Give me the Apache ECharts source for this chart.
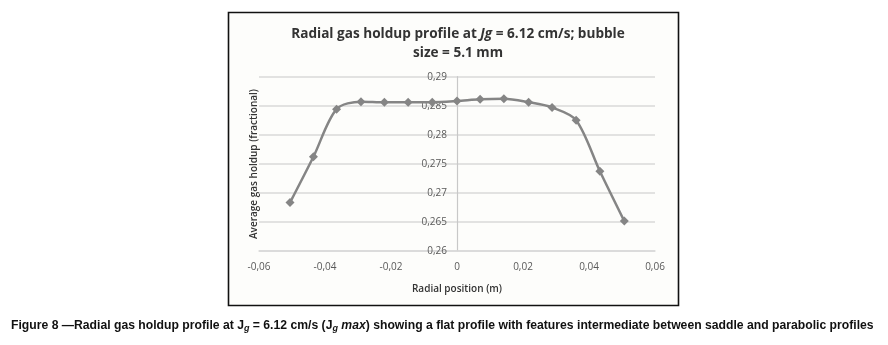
<!DOCTYPE html>
<html>
<head>
<meta charset="utf-8">
<script src="https://cdn.jsdelivr.net/npm/echarts@6/dist/echarts.min.js"></script>
<style>
  html, body { margin: 0; padding: 0; background: #ffffff; }
  #main { width: 888px; height: 345px; }
</style>
</head>
<body>
<div id="main"></div>
<script type="text/javascript">
// radial position (m) and gas holdup
var radialPos = [-0.0506, -0.0435, -0.0365, -0.0291, -0.0220, -0.0148, -0.0075, 0,
                 0.0070, 0.0142, 0.0217, 0.0288, 0.0361, 0.0433, 0.0507];
var holdup = [0.2683, 0.2762, 0.2844, 0.2857, 0.2856, 0.2856, 0.2856, 0.2858,
              0.2861, 0.2862, 0.2856, 0.2847, 0.2825, 0.2737, 0.2651];

var seriesData = radialPos.map(function (x, i) { return [x, holdup[i]]; });

function comma(v) { return String(+v.toFixed(3)).replace('.', ','); }

var narrow = 'Liberation Sans Narrow, Arial Narrow, sans-serif';

var myChart = echarts.init(document.getElementById('main'));
var option = {
    animation: false,
    backgroundColor: '#ffffff',
    graphic: [
        {
            type: 'rect', z: -10,
            shape: { x: 228.5, y: 12.5, width: 450, height: 293 },
            style: { fill: '#fdfdfb', stroke: '#111', lineWidth: 1.6 }
        },
        {
            type: 'text', left: 11, top: 320,
            style: {
                text: '{b|Figure 8 \u2014Radial gas holdup profile at }{b|J}{s|g}{b| = 6.12 cm/s (}{b|J}{s|g}{i| max}{b|) showing a flat profile with features intermediate between saddle and parabolic profiles}',
                rich: {
                    b: { fontFamily: narrow, fontWeight: 'bold', fontSize: 12.2, fill: '#111' },
                    i: { fontFamily: narrow, fontWeight: 'bold', fontStyle: 'italic', fontSize: 12.2, fill: '#111' },
                    s: { fontFamily: narrow, fontWeight: 'bold', fontStyle: 'italic', fontSize: 9, fill: '#111', padding: [6, 0, 0, 0] }
                }
            }
        },
        {
            // y-axis title sits at the left edge of the plot box
            type: 'text', x: 254, y: 164, rotation: Math.PI / 2,
            style: {
                text: 'Average gas holdup (fractional)', align: 'center', verticalAlign: 'middle',
                fontFamily: 'Open Sans', fontWeight: 600, fontSize: 10, fill: '#333'
            }
        }
    ],
    title: {
        text: '{t|Radial gas holdup profile at }{ti|Jg}{t| = 6.12 cm/s; bubble}\n{t|size = 5.1 mm}',
        left: 453, top: 20, textAlign: 'center',
        textStyle: {
            rich: {
                t: { fontFamily: 'Open Sans', fontWeight: 'bold', fontSize: 13.6, color: '#333', lineHeight: 19 },
                ti: { fontFamily: 'Open Sans', fontWeight: 'bold', fontStyle: 'italic', fontSize: 13.6, color: '#333', lineHeight: 19 }
            }
        }
    },
    grid: { left: 259, right: 233, top: 76.7, bottom: 94.3, containLabel: false },
    xAxis: {
        type: 'value', min: -0.06, max: 0.06, interval: 0.02,
        name: 'Radial position (m)', nameLocation: 'middle', nameGap: 33,
        nameTextStyle: { fontFamily: 'Open Sans', fontWeight: 600, fontSize: 10, color: '#333' },
        axisLine: { show: true, lineStyle: { color: '#d9d9d9', width: 1.5 } },
        axisTick: { show: false },
        splitLine: { show: false },
        axisLabel: {
            margin: 11, fontFamily: 'Open Sans', fontSize: 10, color: '#595959',
            formatter: function (v) { return v === 0 ? '0' : comma(v); }
        }
    },
    yAxis: {
        type: 'value', min: 0.26, max: 0.29, interval: 0.005,
        offset: -198,
        axisLine: { show: true, onZero: false, lineStyle: { color: '#c8c8c8', width: 1.2 } },
        axisTick: { show: false },
        splitLine: { show: true, lineStyle: { color: '#d9d9d9', width: 1.5 } },
        axisLabel: {
            margin: 10, fontFamily: 'Open Sans', fontSize: 10, color: '#595959',
            formatter: function (v) { return comma(v); }
        }
    },
    series: [{
        type: 'line',
        data: seriesData,
        smooth: 0.3,
        symbol: 'diamond',
        symbolSize: 9,
        lineStyle: { color: '#858585', width: 2.5 },
        itemStyle: { color: '#858585' }
    }]
};
myChart.setOption(option);
</script>
</body>
</html>
